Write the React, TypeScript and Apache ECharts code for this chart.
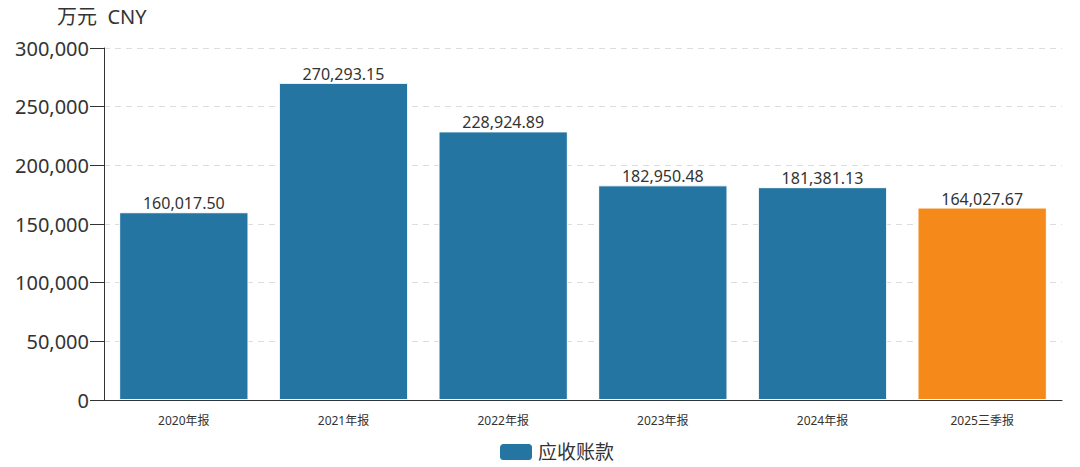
import React, { useEffect, useRef } from "react";
import * as echarts from "echarts";

const categories = ["2020年报", "2021年报", "2022年报", "2023年报", "2024年报", "2025三季报"];
const values = [160017.5, 270293.15, 228924.89, 182950.48, 181381.13, 164027.67];
const barColors = ["#2475a2", "#2475a2", "#2475a2", "#2475a2", "#2475a2", "#f5891a"];
const seriesName = "应收账款";
const unitLabel = "万元  CNY";

const FONT = "'Noto Sans', 'Noto Sans CJK SC', sans-serif";

export default function App() {
  const ref = useRef<HTMLDivElement>(null);
  useEffect(() => {
    if (!ref.current) return;
    const chart = echarts.init(ref.current, undefined, { renderer: "svg" });
    chart.setOption({
      animation: false,
      textStyle: { fontFamily: FONT },
      grid: { left: 104, right: 18, top: 48, bottom: 67 },
      legend: {
        top: 437,
        left: 493,
        itemWidth: 34,
        itemHeight: 18,
        itemGap: 8,
        icon: "roundRect",
        textStyle: { fontSize: 19, color: "#333", fontFamily: FONT },
        data: [{ name: seriesName, itemStyle: { color: "#2475a2" } }],
      },
      graphic: [
        {
          type: "text",
          left: 57,
          top: 6,
          style: { text: unitLabel, fontSize: 20, fill: "#333", fontFamily: FONT },
        },
      ],
      xAxis: {
        type: "category",
        data: categories,
        axisLine: { lineStyle: { color: "#333", width: 1 } },
        axisTick: { alignWithLabel: true, length: 12, lineStyle: { color: "#333" } },
        axisLabel: { fontSize: 12, color: "#333", margin: 14, fontFamily: FONT },
      },
      yAxis: {
        type: "value",
        min: 0,
        max: 300000,
        interval: 50000,
        axisLine: { show: true, lineStyle: { color: "#333" } },
        axisTick: { show: true, length: 14, lineStyle: { color: "#333" } },
        axisLabel: {
          fontSize: 20,
          color: "#333",
          margin: 15,
          fontFamily: FONT,
          formatter: (v: number) => v.toLocaleString("en-US"),
        },
        splitLine: { lineStyle: { color: "#ddd", type: [6, 5] } },
      },
      series: [
        {
          name: seriesName,
          type: "bar",
          barWidth: "81%",
          data: values.map((v, i) => ({ value: v, itemStyle: { color: barColors[i] } })),
          itemStyle: { borderColor: "#ffffff", borderWidth: 1 },
          label: {
            show: true,
            position: "top",
            distance: 1,
            fontSize: 16,
            color: "#333",
            fontFamily: FONT,
            formatter: (p: any) =>
              p.value.toLocaleString("en-US", { minimumFractionDigits: 2, maximumFractionDigits: 2 }),
          },
        },
      ],
    });
    return () => chart.dispose();
  }, []);
  return <div ref={ref} style={{ width: 1080, height: 467, margin: "-8px 0 0 -8px" }} />;
}
